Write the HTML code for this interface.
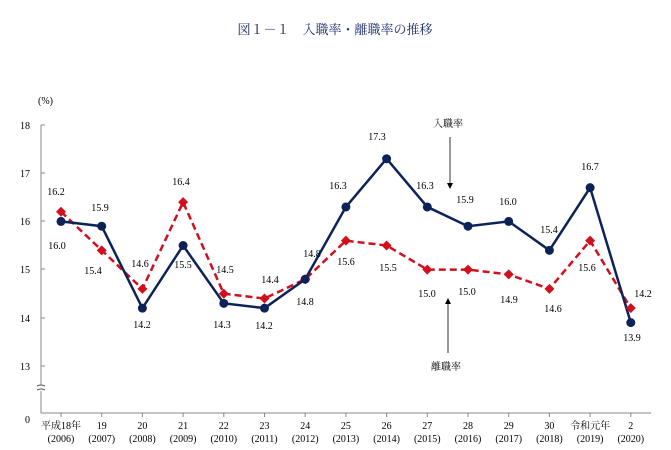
<!DOCTYPE html>
<html><head><meta charset="utf-8"><style>
html,body{margin:0;padding:0;background:#fff;}
svg{display:block;}
text{font-family:"Liberation Serif","Noto Serif CJK JP",serif;fill:#000;}
.t{font-size:10px;}
.c{font-size:10px;text-anchor:middle;}
</style></head><body>
<svg width="671" height="450" viewBox="0 0 671 450" xmlns="http://www.w3.org/2000/svg">
<text x="335" y="34" text-anchor="middle" style="font-size:13px;fill:#1a2a6c">図１－１　入職率・離職率の推移</text>
<text x="38" y="104" class="t">(%)</text>
<g class="t" text-anchor="end">
<text x="30" y="129">18</text><text x="30" y="177">17</text><text x="30" y="225">16</text>
<text x="30" y="273">15</text><text x="30" y="322">14</text><text x="30" y="370">13</text><text x="30" y="423">0</text>
</g>
<g stroke="#888" stroke-width="1" fill="none">
<line x1="41" y1="125" x2="41" y2="413"/>
<line x1="41" y1="413" x2="651" y2="413"/>
<line x1="41" y1="125" x2="45" y2="125"/><line x1="41" y1="173" x2="45" y2="173"/>
<line x1="41" y1="221" x2="45" y2="221"/><line x1="41" y1="269" x2="45" y2="269"/>
<line x1="41" y1="318" x2="45" y2="318"/><line x1="41" y1="366" x2="45" y2="366"/>
</g>
<rect x="37" y="385" width="9" height="6" fill="#fff"/>
<path d="M37 386 q4 -2 8 0 M37 390 q4 -2 8 0" stroke="#555" fill="none"/>
<g id="ticks" stroke="#888"></g>
<polyline id="red" fill="none" stroke="#d0101c" stroke-width="2.5" stroke-dasharray="7,4"/>
<polyline id="blue" fill="none" stroke="#0d2358" stroke-width="2.5"/>
<g id="pts"></g>
<g id="lbl" style="font-size:10px" text-anchor="middle"></g>
<g id="cat"></g>
<text x="448" y="127" class="c">入職率</text>
<line x1="450" y1="137" x2="450" y2="183" stroke="#333"/><path d="M447 183 L453 183 L450 189Z" fill="#000"/>
<text x="446" y="370" class="c">離職率</text>
<line x1="448" y1="353" x2="448" y2="304" stroke="#333"/><path d="M445 304 L451 304 L448 298Z" fill="#000"/>
<script>
(function(){
var b=[16.0,15.9,14.2,15.5,14.3,14.2,14.8,16.3,17.3,16.3,15.9,16.0,15.4,16.7,13.9];
var r=[16.2,15.4,14.6,16.4,14.5,14.4,14.8,15.6,15.5,15.0,15.0,14.9,14.6,15.6,14.2];
function X(i){return 61+i*40.7} function Y(v){return 125+(18-v)*48.2}
var ns="http://www.w3.org/2000/svg";
document.getElementById('blue').setAttribute('points',b.map(function(v,i){return X(i)+','+Y(v)}).join(' '));
document.getElementById('red').setAttribute('points',r.map(function(v,i){return X(i)+','+Y(v)}).join(' '));
var p=document.getElementById('pts'),tk=document.getElementById('ticks');
for(var i=0;i<15;i++){
 var d=document.createElementNS(ns,'path');var x=X(i),y=Y(r[i]);
 d.setAttribute('d','M'+x+' '+(y-5)+'L'+(x+5)+' '+y+'L'+x+' '+(y+5)+'L'+(x-5)+' '+y+'Z');d.setAttribute('fill','#d0101c');p.appendChild(d);
 var c=document.createElementNS(ns,'circle');c.setAttribute('cx',x);c.setAttribute('cy',Y(b[i]));c.setAttribute('r',4.5);c.setAttribute('fill','#0d2358');p.appendChild(c);
 var l=document.createElementNS(ns,'line');l.setAttribute('x1',x);l.setAttribute('x2',x);l.setAttribute('y1',413);l.setAttribute('y2',417);tk.appendChild(l);
}
var bl=[[57,249],[100,211],[142,328],[183,268],[222,328],[264,329],[305,305],[338,189],[377,140],[425,189],[465,203],[508,205],[549,233],[590,170],[632,341]];
var rl=[[56,195],[93,274],[140,267],[181,185],[225,273],[270,283],[312,257],[346,265],[388,271],[427,297],[467,295],[509,303],[553,312],[587,271],[643,297]];
var L=document.getElementById('lbl');
function add(a,v){for(var i=0;i<15;i++){var t=document.createElementNS(ns,'text');t.setAttribute('x',a[i][0]);t.setAttribute('y',a[i][1]);t.textContent=v[i].toFixed(1);L.appendChild(t);}}
add(bl,b);add(rl,r);
var cats=['平成18年','19','20','21','22','23','24','25','26','27','28','29','30','令和元年','2'];
var C=document.getElementById('cat');
for(var i=0;i<15;i++){
 var t=document.createElementNS(ns,'text');t.setAttribute('x',X(i));t.setAttribute('y',429);t.setAttribute('class','c');t.textContent=cats[i];C.appendChild(t);
 var t2=document.createElementNS(ns,'text');t2.setAttribute('x',X(i));t2.setAttribute('y',442);t2.setAttribute('class','c');t2.textContent='('+(2006+i)+')';C.appendChild(t2);
}
})();
</script>
</svg>
</body></html>
